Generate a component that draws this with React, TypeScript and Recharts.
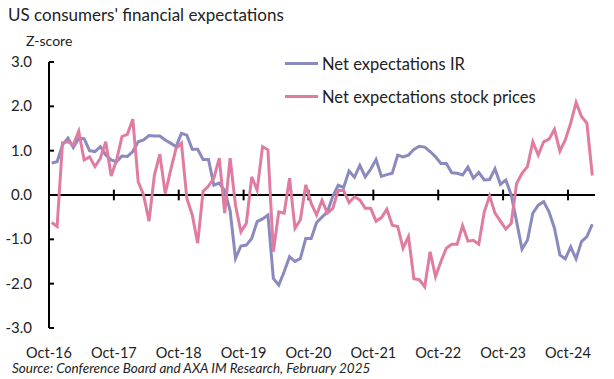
import { LineChart, Line, XAxis, YAxis, ReferenceLine } from "recharts";

// monthly, Oct-16 .. Feb-25
const MONTHS_SHORT = ["Jan", "Feb", "Mar", "Apr", "May", "Jun", "Jul", "Aug", "Sep", "Oct", "Nov", "Dec"];
const months: string[] = [];
for (let k = 0; k < 101; k++) {
  const m = (9 + k) % 12;
  const y = 16 + Math.floor((9 + k) / 12);
  months.push(`${MONTHS_SHORT[m]}-${y}`);
}

const netExpIR = [
  0.72, 0.75, 1.13, 1.28, 1.07, 1.28, 1.27, 1.0, 0.98, 1.09, 0.9, 0.79,
  0.75, 0.88, 0.87, 0.98, 1.2, 1.24, 1.34, 1.33, 1.33, 1.24, 1.17, 1.09,
  1.39, 1.35, 1.03, 1.03, 0.8, 0.8, 0.22, 0.27, 0.1, -0.35, -1.43, -1.15,
  -1.13, -0.98, -0.6, -0.54, -0.45, -1.88, -2.03, -1.73, -1.39, -1.5, -1.43, -0.98,
  -0.98, -0.62, -0.5, -0.38, -0.03, 0.22, 0.17, 0.54, 0.4, 0.67, 0.41, 0.58,
  0.8, 0.42, 0.46, 0.49, 0.9, 0.86, 0.9, 1.03, 1.1, 1.08, 0.98, 0.86,
  0.71, 0.71, 0.5, 0.49, 0.45, 0.63, 0.38, 0.51, 0.34, 0.35, 0.59, 0.24,
  0.34, 0.0, -0.6, -1.22, -1.02, -0.41, -0.23, -0.15, -0.38, -0.75, -1.35, -1.44,
  -1.17, -1.44, -1.05, -0.94, -0.66,
];

const netExpStocks = [
  -0.62, -0.71, 1.18, 1.2, 1.13, 1.44, 0.79, 0.86, 0.64, 0.83, 1.2, 0.43,
  0.79, 1.32, 1.37, 1.71, 0.3, 0.0, -0.59, 0.45, 0.92, 0.03, 0.56, 1.05,
  1.17, -0.08, -0.45, -1.09, 0.08, 0.2, 0.38, 0.83, -0.41, 0.83, -0.23, -0.83,
  -0.64, 0.41, 0.11, 1.09, 1.02, -1.28, -0.38, -0.41, 0.38, -0.75, -0.56, 0.23,
  -0.19, -0.45, -0.12, -0.41, -0.3, 0.1, 0.1, -0.17, -0.04, -0.11, -0.3, -0.3,
  -0.59, -0.51, -0.32, -0.68, -0.71, -1.2, -0.94, -1.89, -1.91, -2.07, -1.28, -1.84,
  -1.5, -1.2, -1.11, -1.11, -0.69, -1.04, -1.02, -1.11, -0.39, -0.02, -0.41, -0.59,
  -0.77, -0.64, 0.26, 0.49, 0.64, 1.2, 0.9, 1.2, 1.26, 1.48, 0.99, 1.24,
  1.62, 2.09, 1.77, 1.62, 0.44,
];

const xTickLabels = ["Oct-16", "Oct-17", "Oct-18", "Oct-19", "Oct-20", "Oct-21", "Oct-22", "Oct-23", "Oct-24"];
const yTicks = [-3, -2, -1, 0, 1, 2, 3];

const data = months.map((m, i) => ({ i, month: m, ir: netExpIR[i], stocks: netExpStocks[i] }));
// ticks sit between months, one per October
const xTicks = xTickLabels.map((_, k) => k * 12 - 0.5);

const FONT = "Lato, 'Noto Sans', sans-serif";
const TEXT = "#222";
const BLUE = "#8B8ABF";
const PINK = "#E07CA2";

const YTick = (props: any) => {
  const { x, y, payload } = props;
  return (
    <g>
      <line x1={x} x2={x + 5} y1={y} y2={y} stroke="#000" strokeWidth={2} />
      <text x={x - 17} y={y} dy={5} textAnchor="end" fill={TEXT} fontSize={15} fontFamily={FONT}>
        {payload.value.toFixed(1)}
      </text>
    </g>
  );
};

const legendItems = [
  { name: "Net expectations IR", color: BLUE },
  { name: "Net expectations stock prices", color: PINK },
];

export default function App() {
  return (
    <div style={{ position: "absolute", left: 0, top: 0, width: 614, height: 379, background: "#fff" }}>
      <div style={{ position: "absolute", left: 8, top: 4, fontFamily: FONT, fontSize: 17, color: TEXT }}>
        US consumers' financial expectations
      </div>
      <div style={{ position: "absolute", left: 26, top: 32, fontFamily: FONT, fontSize: 14, color: TEXT }}>
        Z-score
      </div>
      <LineChart width={614} height={379} data={data} margin={{ top: 62, right: 19, bottom: 21, left: 9 }}>
        <XAxis
          type="number"
          dataKey="i"
          domain={[-0.5, 100.5]}
          ticks={xTicks}
          interval={0}
          tickFormatter={(v) => xTickLabels[Math.round((v + 0.5) / 12)]}
          axisLine={false}
          tickLine={false}
          tickSize={0}
          tickMargin={20}
          height={30}
          tick={{ fill: TEXT, fontSize: 14.5, fontFamily: FONT }}
        />
        <YAxis
          domain={[-3, 3]}
          ticks={yTicks}
          interval={0}
          width={40}
          tickSize={0}
          tickMargin={0}
          tickLine={false}
          axisLine={{ stroke: "#000", strokeWidth: 2 }}
          tick={<YTick />}
        />
        <ReferenceLine y={0} stroke="#000" strokeWidth={2} />
        {xTicks.slice(1).map((t) => (
          <ReferenceLine
            key={t}
            segment={[
              { x: t, y: -0.12 },
              { x: t, y: 0.12 },
            ]}
            stroke="#000"
            strokeWidth={2}
          />
        ))}
        <Line type="linear" dataKey="ir" stroke={BLUE} strokeWidth={3} dot={false} isAnimationActive={false} />
        <Line type="linear" dataKey="stocks" stroke={PINK} strokeWidth={3} dot={false} isAnimationActive={false} />
      </LineChart>
      <div style={{ position: "absolute", left: 285, top: 47, fontFamily: FONT, fontSize: 16.5, color: TEXT }}>
        {legendItems.map((e) => (
          <div key={e.name} style={{ display: "flex", alignItems: "center", height: 33 }}>
            <span style={{ width: 33, height: 3, background: e.color, marginRight: 4 }} />
            <span>{e.name}</span>
          </div>
        ))}
      </div>
      <div
        style={{
          position: "absolute",
          left: 12,
          top: 360,
          fontFamily: FONT,
          fontSize: 13.5,
          fontStyle: "italic",
          color: TEXT,
        }}
      >
        Source: Conference Board and AXA IM Research, February 2025
      </div>
    </div>
  );
}
